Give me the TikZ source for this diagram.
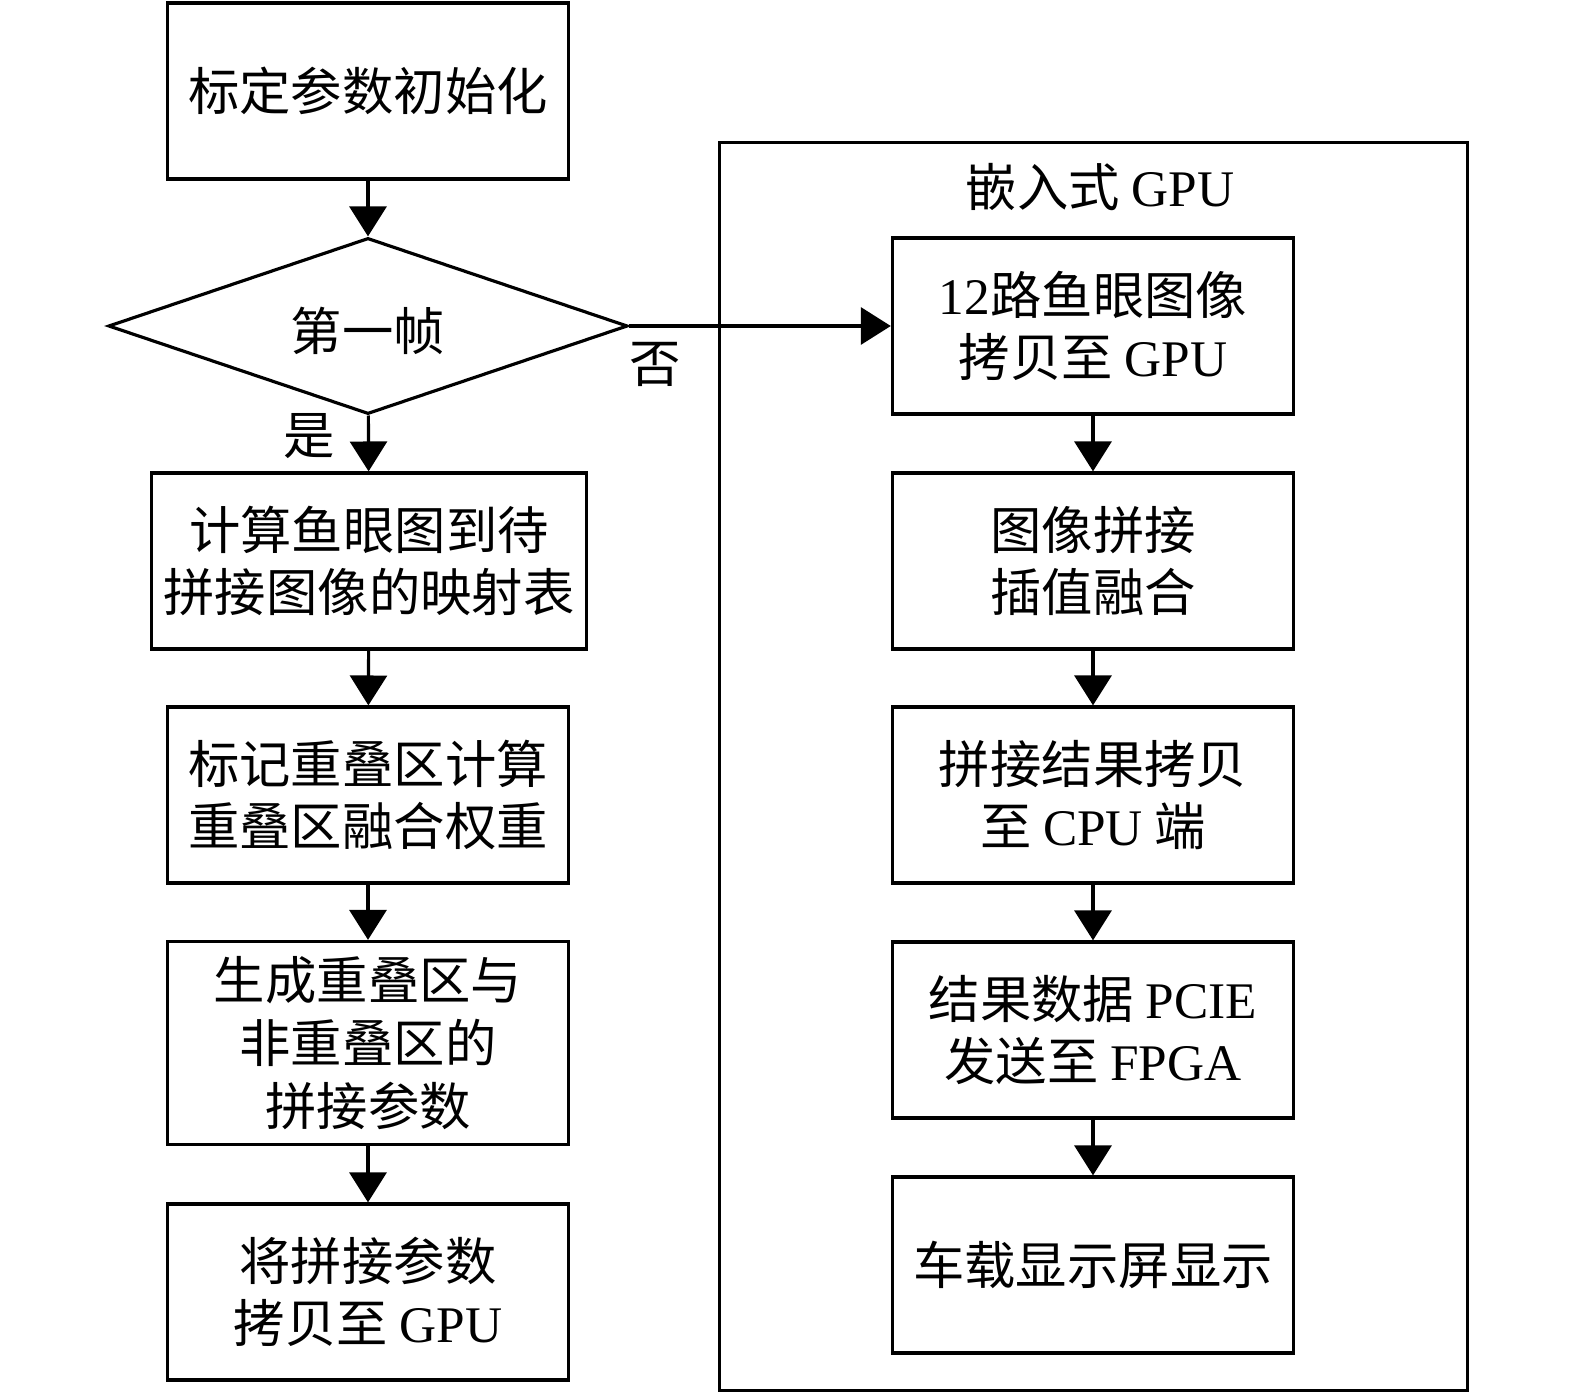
\documentclass[tikz,border=0pt]{standalone}
\usepackage{fontspec}
\setmainfont{Noto Sans CJK SC}
\newfontfamily\latin{Liberation Serif}
\usetikzlibrary{arrows.meta,shapes.geometric}
\newcommand{\en}[1]{{\latin #1}}

\begin{document}
\begin{tikzpicture}[x=0.01cm,y=-0.01cm,line width=0.9pt,
	font=\fontsize{14.6}{17.8}\selectfont,
	box/.style={draw,rectangle,minimum width=4.01cm,minimum height=1.76cm,align=center,inner sep=0pt},
	decide/.style={draw,diamond,aspect=2.95,minimum width=5.19cm,minimum height=1.76cm,inner sep=0pt},
	arr/.style={-{Triangle[length=8.5pt,width=10.5pt]}}]
	\useasboundingbox (0,0) rectangle (1575,1394);
	% left column
	\node[box] (init) at (368,91) {标定参数初始化};
	\node[decide] (first) at (368,326) {};
	\node (firsttext) at (368,331) {第一帧};
	\node[box,minimum width=4.35cm] (map) at (369,561) {计算鱼眼图到待\\拼接图像的映射表};
	\node[box] (weight) at (368,795) {标记重叠区计算\\重叠区融合权重};
	\node[box,minimum height=2.03cm] (param) at (368,1043) {生成重叠区与\\非重叠区的\\拼接参数};
	\node[box] (copy) at (368,1292) {将拼接参数\\拷贝至 \en{GPU}};
	% embedded gpu
	\node[draw,minimum width=7.47cm,minimum height=12.47cm,inner sep=0pt] (gpu) at (1093.5,766.5) {};
	\node (gputitle) at (1100,187) {嵌入式 \en{GPU}};
	\node[box] (load) at (1093,326) {\en{12}路鱼眼图像\\拷贝至 \en{GPU}};
	\node[box] (stitch) at (1093,561) {图像拼接\\插值融合};
	\node[box] (back) at (1093,795) {拼接结果拷贝\\至 \en{CPU} 端};
	\node[box] (send) at (1093,1030) {结果数据 \en{PCIE}\\发送至 \en{FPGA}};
	\node[box] (show) at (1093,1265) {车载显示屏显示};
	% arrows
	\draw[arr] (init) -- (first);
	\draw[arr] (first) -- node[pos=0.36,left=0.2cm] {是} (map);
	\draw[arr] (map) -- (weight);
	\draw[arr] (weight) -- (param);
	\draw[arr] (param) -- (copy);
	\draw[arr] (first) -- node[pos=0.1,below=0.03cm] {否} (load);
	\draw[arr] (load) -- (stitch);
	\draw[arr] (stitch) -- (back);
	\draw[arr] (back) -- (send);
	\draw[arr] (send) -- (show);
\end{tikzpicture}
\end{document}
